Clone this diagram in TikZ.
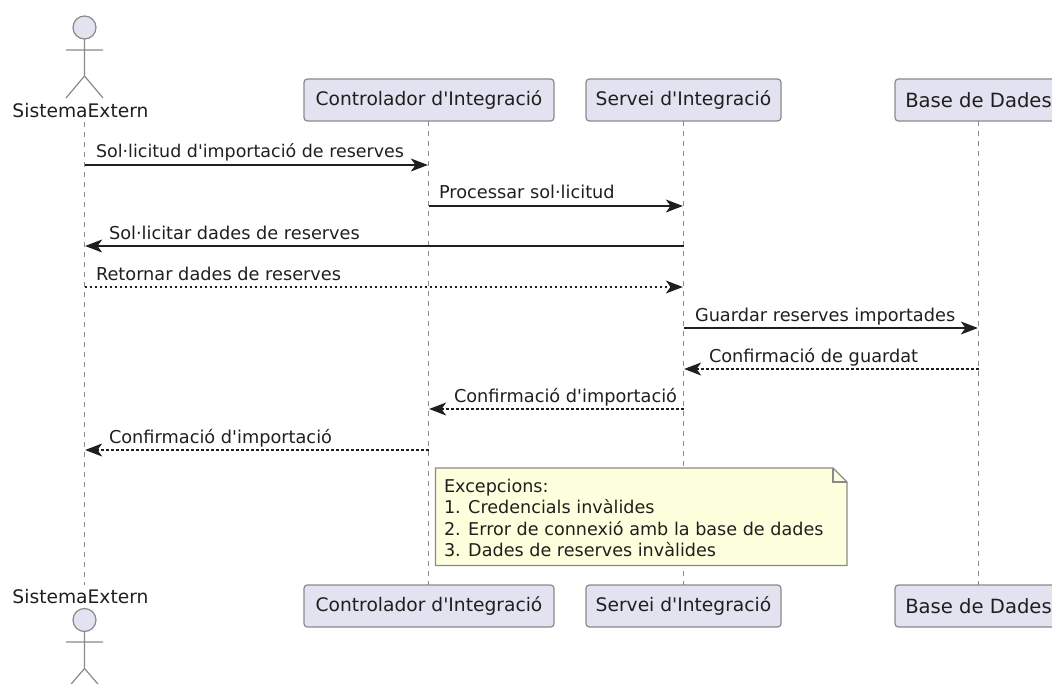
\documentclass[tikz,border=0pt]{standalone}
\usepackage{fontspec}
\newfontfamily\dvfont{DejaVu Sans}
\usetikzlibrary{arrows.meta}
\definecolor{pfill}{HTML}{E2E2F0}
\definecolor{pline}{HTML}{8A8A8A}
\definecolor{ink}{HTML}{1F1F1F}
\definecolor{notefill}{HTML}{FEFFDD}
\tikzset{
  x=0.75pt,y=-0.75pt,
  every node/.style={font=\dvfont\fontsize{13.3}{16}\selectfont,text=ink,inner sep=0pt,outer sep=0pt},
  bigtext/.style={font=\dvfont\fontsize{14}{17}\selectfont},
  pbox/.style={bigtext,draw=pline,fill=pfill,line width=0.9pt,rounded corners=2.5pt,minimum height=31.5pt},
  actorline/.style={draw=pline,line width=0.9pt},
  actorhead/.style={draw=pline,fill=pfill,line width=0.9pt,circle,minimum size=17.25pt},
  life/.style={draw=pline,line width=0.75pt,dash pattern=on 3.75pt off 3.75pt},
  msg/.style={draw=ink,line width=0.85pt,shorten >=0.5pt,-{Stealth[length=12.75pt,width=9.75pt,inset=3.5pt]}},
  reply/.style={msg,dash pattern=on 1.875pt off 1.875pt},
  lbl/.style={anchor=base west},
  notebox/.style={draw=pline,fill=notefill,line width=0.9pt,line join=miter},
}
\begin{document}
\begin{tikzpicture}
\path[use as bounding box] (0,0) rectangle (1052,684);
\clip (0,0) rectangle (1052,684);
% participants, top
\node[actorhead] (headT) at (84.5,27.5) {};
\coordinate (hipT) at (84.5,76);
\coordinate (armLT) at (66,50);
\coordinate (armRT) at (103,50);
\coordinate (legLT) at (66,98);
\coordinate (legRT) at (103,98);
\node[bigtext] (ext) at (80.5,110.5) {SistemaExtern};
\node[pbox,minimum width=187.5pt] (ctlT) at (429,100) {Controlador d'Integració};
\node[pbox,minimum width=146.25pt] (srvT) at (683.5,100) {Servei d'Integració};
\node[pbox,minimum width=125.25pt,font=\dvfont\fontsize{14.7}{17}\selectfont] (dbT) at (978.5,100) {Base de Dades};
% participants, bottom
\node[bigtext] (extB) at (80.5,596.5) {SistemaExtern};
\node[actorhead] (headB) at (84.5,620) {};
\coordinate (hipB) at (84.5,668.5);
\coordinate (armLB) at (66,642);
\coordinate (armRB) at (103,642);
\coordinate (legLB) at (66,690);
\coordinate (legRB) at (103,690);
\node[pbox,minimum width=187.5pt] (ctlB) at (429,606) {Controlador d'Integració};
\node[pbox,minimum width=146.25pt] (srvB) at (683.5,606) {Servei d'Integració};
\node[pbox,minimum width=125.25pt,font=\dvfont\fontsize{14.7}{17}\selectfont] (dbB) at (978.5,606) {Base de Dades};
% actors
\draw[actorline] (headT.south) -- (hipT) (armLT) -- (armRT) (legLT) -- (hipT) -- (legRT);
\draw[actorline] (headB.south) -- (hipB) (armLB) -- (armRB) (legLB) -- (hipB) -- (legRB);
% lifelines
\coordinate (extTop) at (84.5,122);
\coordinate (extBot) at (84.5,585);
\draw[life] (extTop) -- (extBot);
\draw[life] (ctlT.south -| 428.5,0) -- (ctlB.north -| 428.5,0);
\draw[life] (srvT.south) -- (srvB.north);
\draw[life] (dbT.south) -- (dbB.north);
% message anchors
\foreach \n/\y in {1/165,2/206,3/246,4/287,5/328,6/369,7/409,8/450}{
  \coordinate (e\n) at (84.5,\y);
  \coordinate (c\n) at (428.5,\y);
  \coordinate (s\n) at (683.5,\y);
  \coordinate (d\n) at (978.5,\y);
}
\draw[msg] (e1) -- (c1);
\draw[msg] (c2) -- (s2);
\draw[msg] (s3) -- (e3);
\draw[reply] (e4) -- (s4);
\draw[msg] (s5) -- (d5);
\draw[reply] (d6) -- (s6);
\draw[reply] (s7) -- (c7);
\draw[reply] (c8) -- (e8);
\node[lbl,font=\dvfont\fontsize{13.1}{16}\selectfont] (m1) at (96,158) {Sol·licitud d'importació de reserves};
\node[lbl] (m2) at (439,199) {Processar sol·licitud};
\node[lbl] (m3) at (109,239.5) {Sol·licitar dades de reserves};
\node[lbl] (m4) at (96,280) {Retornar dades de reserves};
\node[lbl] (m5) at (695,321) {Guardar reserves importades};
\node[lbl] (m6) at (709,362) {Confirmació de guardat};
\node[lbl] (m7) at (454,402.5) {Confirmació d'importació};
\node[lbl] (m8) at (109,443) {Confirmació d'importació};
% note
\draw[notebox] (435.5,468) -- (833,468) -- (847,482) -- (847,565.5) -- (435.5,565.5) -- cycle;
\draw[notebox,fill=none] (833,468) -- (833,482) -- (847,482);
\node[anchor=north west,align=left,font=\dvfont\fontsize{13.2}{16}\selectfont] (note) at (444,479) {Excepcions:\\1. Credencials invàlides\\2. Error de connexió amb la base de dades\\3. Dades de reserves invàlides};
\end{tikzpicture}
\end{document}
